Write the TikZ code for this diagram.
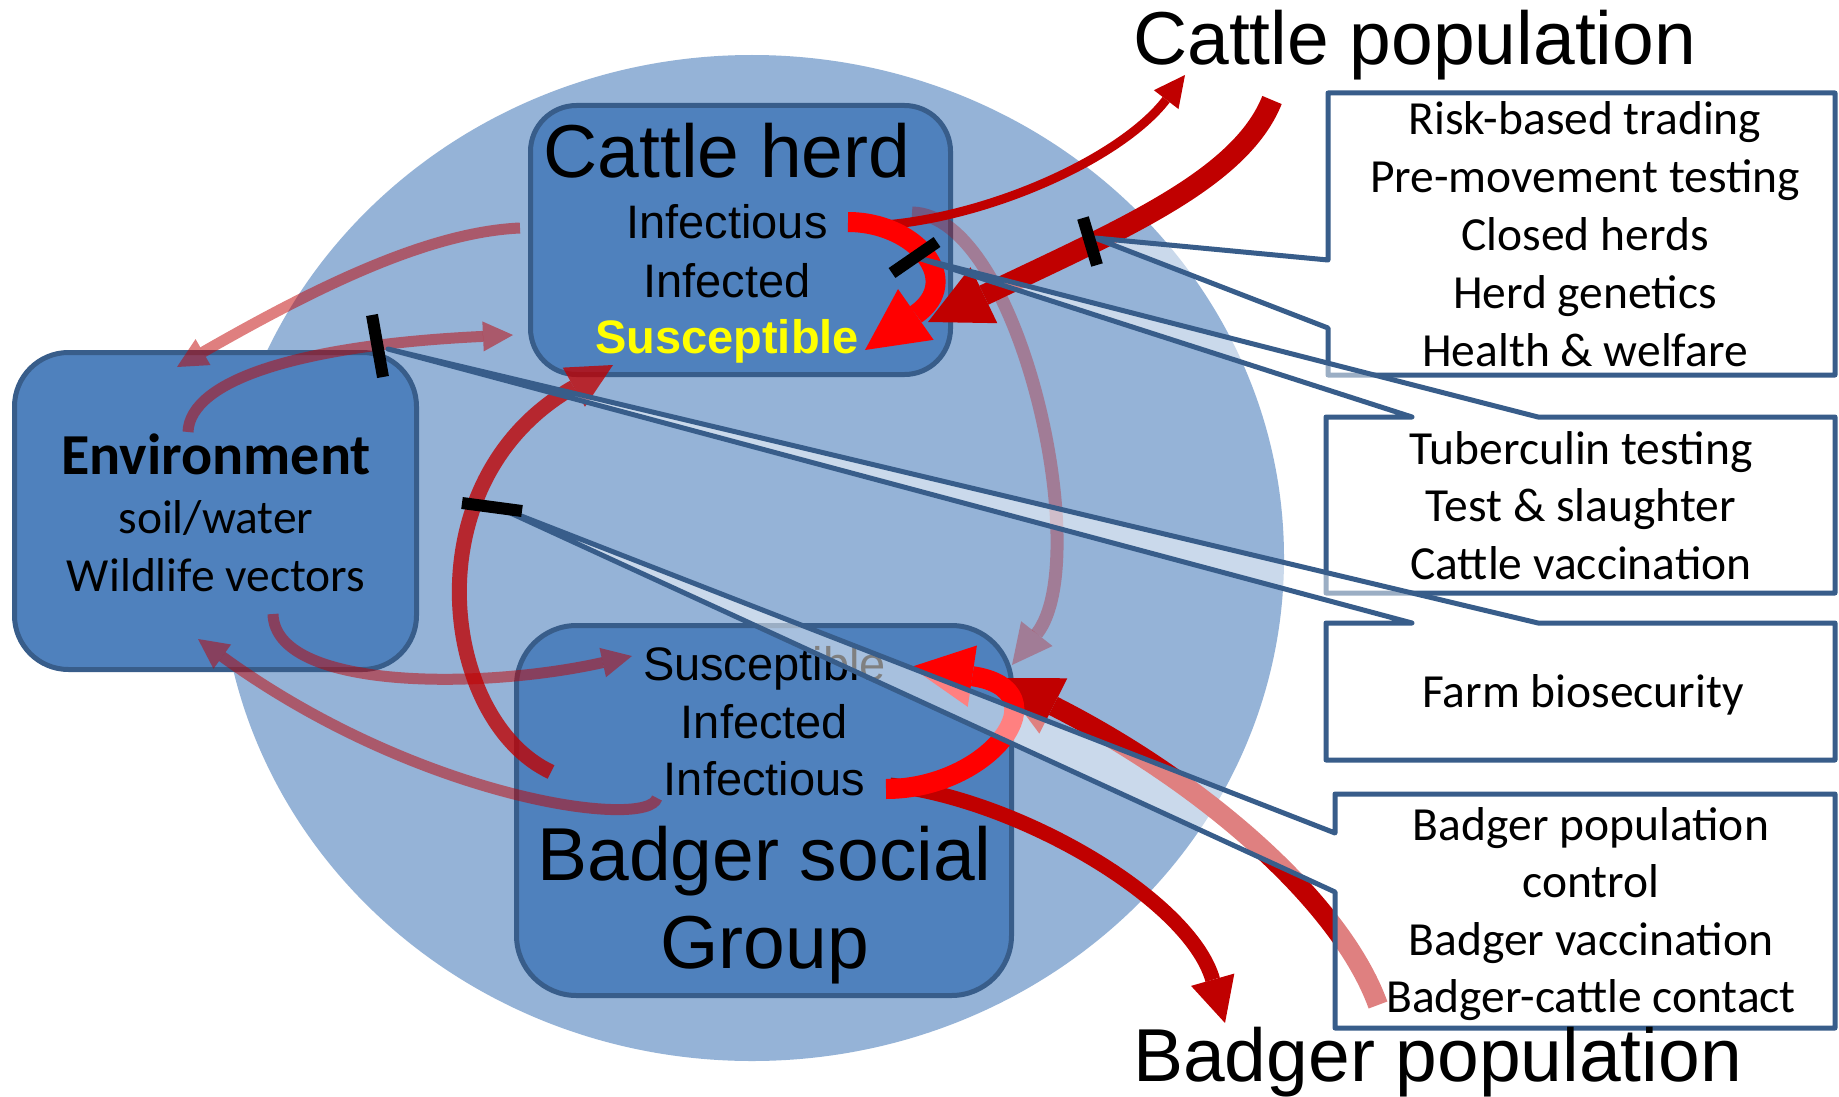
\documentclass[tikz,border=0pt]{standalone}
\usepackage{fontspec}
\setmainfont{Liberation Sans}
\newfontfamily\calibri{Carlito}
\usetikzlibrary{arrows.meta}
\definecolor{circ}{HTML}{95B3D7}
\definecolor{boxfill}{HTML}{4F81BD}
\definecolor{boxline}{HTML}{385D8A}
\definecolor{dred}{HTML}{C00000}
\definecolor{bred}{HTML}{FF0000}
\definecolor{yel}{HTML}{FFFF00}
\tikzset{
  boxshape/.style={draw=boxline, fill=boxfill, line width=5pt, rectangle, inner sep=0pt},
  calloutbox/.style={draw=boxline, fill=white, fill opacity=0.5, line width=5pt, line join=round},
  blocker/.style={line width=12pt, draw=black},
  bigtxt/.style={font=\fontsize{75}{90}\selectfont, inner sep=0pt, anchor=base},
  midtxt/.style={font=\fontsize{47}{57}\selectfont, inner sep=0pt, anchor=base},
  caltxt/.style={font=\calibri\fontsize{47.5}{58}\selectfont, inner sep=0pt, anchor=base},
  myhead/.style={-{Triangle[length=#1,width=#1,line width=0pt]}},
  soft/.style={draw=dred, opacity=0.5, line width=11pt, line cap=butt, myhead=30pt},
  faint/.style={draw=dred, opacity=0.3, line width=13pt, line cap=butt, myhead=40pt},
  strongarc/.style={draw=dred, opacity=0.78, line width=15pt, line cap=butt, myhead=45pt},
  dflow/.style={draw=dred, line width=#1, line cap=butt},
  bflow/.style={draw=bred, line width=20pt, line cap=butt, myhead=62pt},
}
\begin{document}
\begin{tikzpicture}[x=1pt,y=-1pt]
\useasboundingbox (0,0) rectangle (1839,1097);
\fill[white] (0,0) rectangle (1839,1097);
% big population circle
\fill[circ] (752,558) ellipse [x radius=532, y radius=503];

% boxes
\node[boxshape, minimum width=402pt, minimum height=317pt, rounded corners=54pt] (env) at (215.5,511) {};
\node[boxshape, minimum width=420pt, minimum height=269pt, rounded corners=46pt] (herd) at (740.5,240) {};
\node[boxshape, minimum width=495pt, minimum height=370pt, rounded corners=60pt] (badger) at (764,810.5) {};

% box texts
\node[bigtxt] (herdTitle) at (727,177) {Cattle herd};
\node[midtxt] (herdA) at (727,238) {Infectious};
\node[midtxt] (herdB) at (727,297) {Infected};
\node[midtxt, font=\bfseries\fontsize{47}{57}\selectfont, text=yel] (herdC) at (727,353) {Susceptible};

\node[midtxt] (badA) at (764.5,680) {Susceptible};
\node[midtxt] (badB) at (764.5,738) {Infected};
\node[midtxt] (badC) at (764.5,795) {Infectious};
\node[bigtxt] (badTitleA) at (764.5,880) {Badger social};
\node[bigtxt] (badTitleB) at (764.5,968) {Group};

\node[caltxt, font=\calibri\bfseries\fontsize{58}{62}\selectfont] (envTitle) at (216,474) {Environment};
\node[caltxt] (envA) at (216,533) {soil/water};
\node[caltxt] (envB) at (216,591) {Wildlife vectors};

% arrow end points
\coordinate (hE1) at (520,228);
\coordinate (eT1) at (177,367);
\coordinate (eS2) at (188,432);
\coordinate (hT2) at (513,335);
\coordinate (eS3) at (273,614);
\coordinate (bT3) at (632,656);
\coordinate (bS4) at (657,798);
\coordinate (eT4) at (198,639);
\coordinate (bS5) at (551,772);
\coordinate (hT5) at (613,365);
\coordinate (hS6) at (912,213);
\coordinate (bT6) at (1012,665);
\coordinate (hS7) at (848,222);
\coordinate (hT7) at (865,350);
\coordinate (hS8) at (868,226);
\coordinate (pT8) at (1185,75);
\coordinate (pS9) at (1272,100);
\coordinate (hT9) at (928,322);
\coordinate (bS10) at (886,789);
\coordinate (bT10) at (911,667);
\coordinate (bS11) at (890,785);
\coordinate (pT11) at (1225,1023);
\coordinate (cS12) at (1378,1005);
\coordinate (bT12) at (998,678);

% arrows
\draw[soft] (hE1) .. controls (430,232) and (320,285) .. (eT1);
\draw[soft] (eS2) .. controls (190,380) and (300,345) .. (hT2);
\draw[soft] (eS3) .. controls (275,690) and (480,690) .. (bT3);
\draw[soft] (bS4) .. controls (648,830) and (420,800) .. (eT4);
\draw[faint] (hS6) .. controls (1020,215) and (1095,560) .. (bT6);
\draw[strongarc] (bS5) .. controls (440,720) and (410,480) .. (hT5);
\draw[dflow=20pt, myhead=62pt] (cS12) .. controls (1340,900) and (1200,780) .. (bT12);
\draw[dflow=21pt, myhead=62pt] (pS9) .. controls (1240,180) and (1120,230) .. (hT9);
\draw[dflow=9pt, myhead=31pt] (hS8) .. controls (980,222) and (1120,160) .. (pT8);
\draw[dflow=15pt, myhead=45pt] (bS11) .. controls (1020,800) and (1190,900) .. (pT11);
\draw[bflow] (hS7) .. controls (915,222) and (965,280) .. (hT7);
\draw[bflow] (bS10) .. controls (990,789) and (1065,690) .. (bT10);

% callouts
\coordinate (t1) at (1095,238);
\coordinate (t2) at (918,258);
\coordinate (t3) at (388,349);
\coordinate (t4) at (493,505);
\draw[calloutbox] (1328,93) -- (1835,93) -- (1835,375) -- (1328,375) -- (1328,328) -- (t1) -- (1328,260) -- cycle;
\draw[calloutbox] (1326,417) -- (1412,417) -- (t2) -- (1538,417) -- (1835,417) -- (1835,593) -- (1326,593) -- cycle;
\draw[calloutbox] (1326,623) -- (1412,623) -- (t3) -- (1538,623) -- (1835,623) -- (1835,760) -- (1326,760) -- cycle;
\draw[calloutbox] (1335,794) -- (1835,794) -- (1835,1028) -- (1335,1028) -- (1335,892) -- (t4) -- (1335,833) -- cycle;

% blocking bars
\draw[blocker] (372,315) -- (383,377);
\draw[blocker] (892,273) -- (937,242);
\draw[blocker] (1083,218) -- (1097,265);
\draw[blocker] (462,503) -- (522,511);

% callout texts
\node[caltxt] (c1a) at (1585,135) {Risk-based trading};
\node[caltxt] (c1b) at (1585,193) {Pre-movement testing};
\node[caltxt] (c1c) at (1585,250) {Closed herds};
\node[caltxt] (c1d) at (1585,308) {Herd genetics};
\node[caltxt] (c1e) at (1585,366) {Health \& welfare};

\node[caltxt] (c2a) at (1581,464) {Tuberculin testing};
\node[caltxt] (c2b) at (1581,521) {Test \& slaughter};
\node[caltxt] (c2c) at (1581,579) {Cattle vaccination};

\node[caltxt] (c3a) at (1583,707) {Farm biosecurity};

\node[caltxt] (c4a) at (1591,840) {Badger population};
\node[caltxt] (c4b) at (1591,897) {control};
\node[caltxt] (c4c) at (1591,955) {Badger vaccination};
\node[caltxt] (c4d) at (1591,1012) {Badger-cattle contact};

% titles
\node[bigtxt, anchor=base west] (cattlePop) at (1133,65) {Cattle population};
\node[bigtxt, anchor=base west] (badgerPop) at (1133,1081) {Badger population};
\end{tikzpicture}
\end{document}
